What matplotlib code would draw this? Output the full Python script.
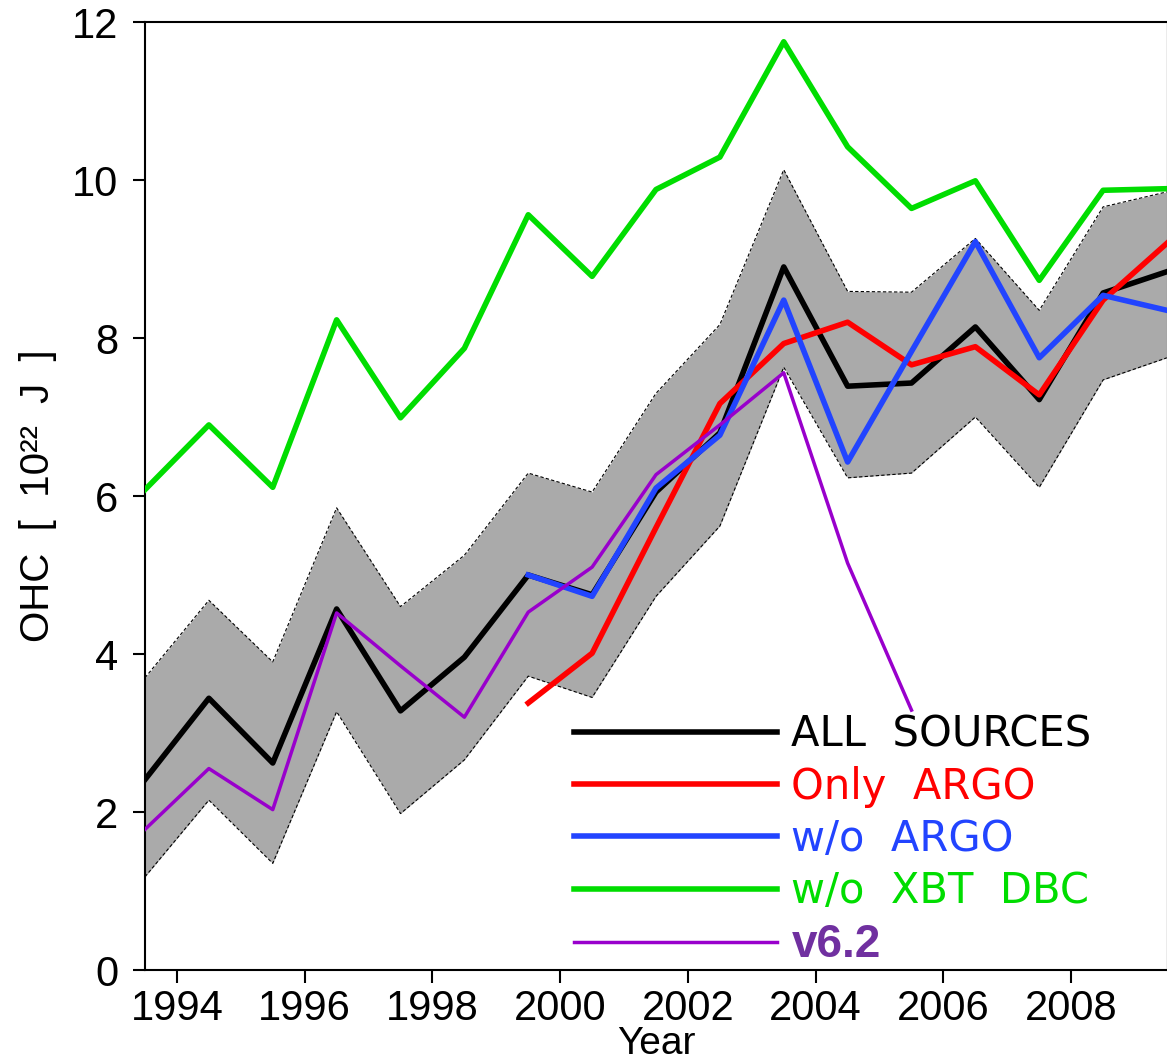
import numpy as np
import matplotlib
matplotlib.use("Agg")
import matplotlib.pyplot as plt
from matplotlib.lines import Line2D

# half-year centred annual values, 10^22 J
years = np.arange(1993.5, 2010.0, 1.0)

all_sources = [2.41, 3.44, 2.62, 4.57, 3.28, 3.96, 5.00, 4.75, 6.05, 6.80, 8.90,
               7.39, 7.43, 8.14, 7.22, 8.57, 8.84]
band_upper = [3.70, 4.68, 3.90, 5.85, 4.60, 5.25, 6.29, 6.05, 7.30, 8.17, 10.13,
              8.59, 8.58, 9.26, 8.35, 9.66, 9.85]
band_lower = [1.18, 2.15, 1.35, 3.27, 1.98, 2.66, 3.72, 3.45, 4.73, 5.62, 7.63,
              6.23, 6.29, 7.00, 6.11, 7.47, 7.75]
wo_xbt = [6.08, 6.90, 6.11, 8.23, 6.99, 7.87, 9.56, 8.78, 9.88, 10.29, 11.75,
          10.42, 9.64, 9.99, 8.73, 9.87, 9.89]

argo_years = np.arange(1999.5, 2010.0, 1.0)
only_argo = [3.38, 4.01, 5.60, 7.17, 7.93, 8.20, 7.66, 7.89, 7.28, 8.48, 9.20]
wo_argo = [5.00, 4.73, 6.10, 6.77, 8.48, 6.43, 7.83, 9.22, 7.75, 8.54, 8.35]

v62_years = np.arange(1993.5, 2006.0, 1.0)
v62 = [1.78, 2.55, 2.03, 4.52, 3.85, 3.20, 4.53, 5.10, 6.27, 6.90, 7.56, 5.15, 3.29]

xticks = [1994, 1996, 1998, 2000, 2002, 2004, 2006, 2008]
yticks = [0, 2, 4, 6, 8, 10, 12]

GREEN = '#00dd00'
RED = '#ff0000'
BLUE = '#2244ff'
PURPLE = '#9900cc'

fig = plt.figure(figsize=(11.67, 10.55), dpi=100)
ax = fig.add_axes([145 / 1167, 1 - 970 / 1055, 1022 / 1167, 948 / 1055])

ax.fill_between(years, band_lower, band_upper, color='#aaaaaa', lw=0, zorder=1)
ax.plot(years, band_upper, color='black', lw=0.8, ls=(0, (3, 2)), zorder=2)
ax.plot(years, band_lower, color='black', lw=0.8, ls=(0, (3, 2)), zorder=2)

ax.plot(years, wo_xbt, color=GREEN, lw=4, zorder=3)
ax.plot(years, all_sources, color='black', lw=4, zorder=4)
ax.plot(argo_years, only_argo, color=RED, lw=4, zorder=5)
ax.plot(argo_years, wo_argo, color=BLUE, lw=4, zorder=6)
ax.plot(v62_years, v62, color=PURPLE, lw=2.5, zorder=7)

ax.set_xlim(1993.5, 2009.5)
ax.set_ylim(0, 12)
ax.set_xticks(xticks)
ax.set_yticks(yticks)

tickfont = dict(family=['Liberation Sans', 'DejaVu Sans'], size=30)
ax.set_xticklabels([str(t) for t in xticks], fontdict=tickfont)
ax.set_yticklabels([str(t) for t in yticks], fontdict=tickfont)
ax.tick_params(direction='out', length=9, width=1.5, colors='black')
ax.tick_params(axis='x', pad=5)
ax.tick_params(axis='y', pad=10)
for s in ['left', 'bottom', 'top']:
    ax.spines[s].set_linewidth(1.5)
ax.spines['right'].set_color('#999999')
ax.spines['right'].set_linewidth(1.0)

ax.set_ylabel('OHC  [  10²²  J  ]', family=['Liberation Sans Narrow', 'Liberation Sans', 'DejaVu Sans'],
              size=29)
ax.yaxis.set_label_coords(-0.086, 0.5)
ax.set_xlabel('Year', family=['Liberation Sans', 'DejaVu Sans'], size=28)
ax.xaxis.set_label_coords(0.5, -0.059)

handles = [Line2D([], [], color='black', lw=4),
           Line2D([], [], color=RED, lw=4),
           Line2D([], [], color=BLUE, lw=4),
           Line2D([], [], color=GREEN, lw=4),
           Line2D([], [], color=PURPLE, lw=2.5)]
labels = ['ALL  SOURCES', 'Only  ARGO', 'w/o  ARGO', 'w/o  XBT  DBC', 'v6.2']
leg = ax.legend(handles, labels, loc='upper left', bbox_to_anchor=(0.42, 0.271),
                frameon=False, borderpad=0, borderaxespad=0,
                prop={'family': 'DejaVu Sans', 'size': 30},
                handlelength=4.87, handletextpad=0.34, labelspacing=0.25)
leg.set_zorder(10)
for txt, c in zip(leg.get_texts(), ['black', RED, BLUE, GREEN]):
    txt.set_color(c)
last = leg.get_texts()[4]
last.set_color('#7030a0')
last.set_fontfamily(['Liberation Sans', 'DejaVu Sans'])
last.set_fontweight('bold')
last.set_fontsize(33)

fig.savefig('out.png', dpi=100)
